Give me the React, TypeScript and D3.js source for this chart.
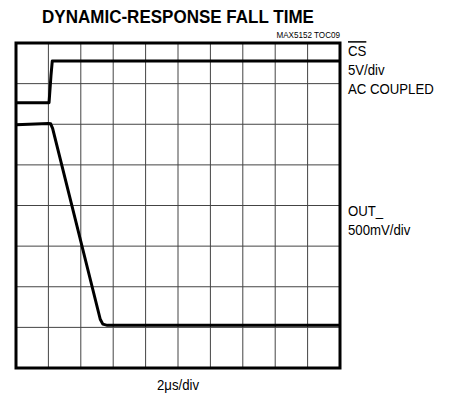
import React from "react";
import * as d3 from "d3";

// scope grid: 10 horizontal divisions, 8 vertical divisions
const xDivs = d3.range(0, 11);
const yDivs = d3.range(0, 9);

// traces, read in divisions (x: time div, y: div from bottom)
const csTime = [0, 1.02, 1.08, 1.12, 10];
const csLevel = [6.53, 6.53, 7.2, 7.56, 7.56];

const outTime = [0, 1.0, 1.07, 1.13, 2.6, 2.68, 2.82, 10];
const outLevel = [5.99, 6.02, 6.01, 5.9, 1.2, 1.08, 1.05, 1.05];

const rightLabels = [
  { text: "CS", y: 56, over: true },
  { text: "5V/div", y: 75 },
  { text: "AC COUPLED", y: 94 },
  { text: "OUT_", y: 216 },
  { text: "500mV/div", y: 235 },
];

const W = 454;
const H = 402;
const left = 16;
const right = 340;
const top = 43;
const bottom = 368;
const font = "'Liberation Sans Narrow', 'Liberation Sans', Arial, sans-serif";

export default function App() {
  const x = d3.scaleLinear().domain([0, 10]).range([left, right]);
  const y = d3.scaleLinear().domain([0, 8]).range([bottom, top]);

  const line = d3
    .line<[number, number]>()
    .x((d) => x(d[0]))
    .y((d) => y(d[1]));

  const cs = csTime.map((t, i) => [t, csLevel[i]] as [number, number]);
  const out = outTime.map((t, i) => [t, outLevel[i]] as [number, number]);

  return (
    <svg
      width={W}
      height={H}
      style={{ position: "absolute", left: 0, top: 0, background: "#fff" }}
    >
      <text
        transform="translate(178,23) scale(0.92,1)"
        textAnchor="middle"
        fontFamily={font}
        fontWeight="bold"
        fontSize={18.5}
      >
        DYNAMIC-RESPONSE FALL TIME
      </text>
      <text
        transform="translate(340,38) scale(0.9,1)"
        textAnchor="end"
        fontFamily={font}
        fontSize={9}
      >
        MAX5152 TOC09
      </text>

      <g stroke="#444" strokeWidth={1}>
        {xDivs.slice(1, -1).map((d) => (
          <line key={"v" + d} x1={x(d)} x2={x(d)} y1={top} y2={bottom} />
        ))}
        {yDivs.slice(1, -1).map((d) => (
          <line key={"h" + d} x1={left} x2={right} y1={y(d)} y2={y(d)} />
        ))}
      </g>

      <path
        d={line(cs) ?? ""}
        fill="none"
        stroke="#000"
        strokeWidth={3}
        strokeLinejoin="round"
      />
      <path
        d={line(out) ?? ""}
        fill="none"
        stroke="#000"
        strokeWidth={3}
        strokeLinejoin="round"
      />

      <rect
        x={left}
        y={top}
        width={right - left}
        height={bottom - top}
        fill="none"
        stroke="#000"
        strokeWidth={3}
      />

      {rightLabels.map((l) => (
        <text
          key={l.text}
          transform={`translate(348,${l.y}) scale(0.88,1)`}
          fontFamily={font}
          fontSize={15}
        >
          {l.over ? (
            <tspan textDecoration="overline">{l.text}</tspan>
          ) : (
            l.text
          )}
        </text>
      ))}

      <text
        transform="translate(178,390) scale(0.88,1)"
        textAnchor="middle"
        fontFamily={font}
        fontSize={15}
      >
        2μs/div
      </text>
    </svg>
  );
}
